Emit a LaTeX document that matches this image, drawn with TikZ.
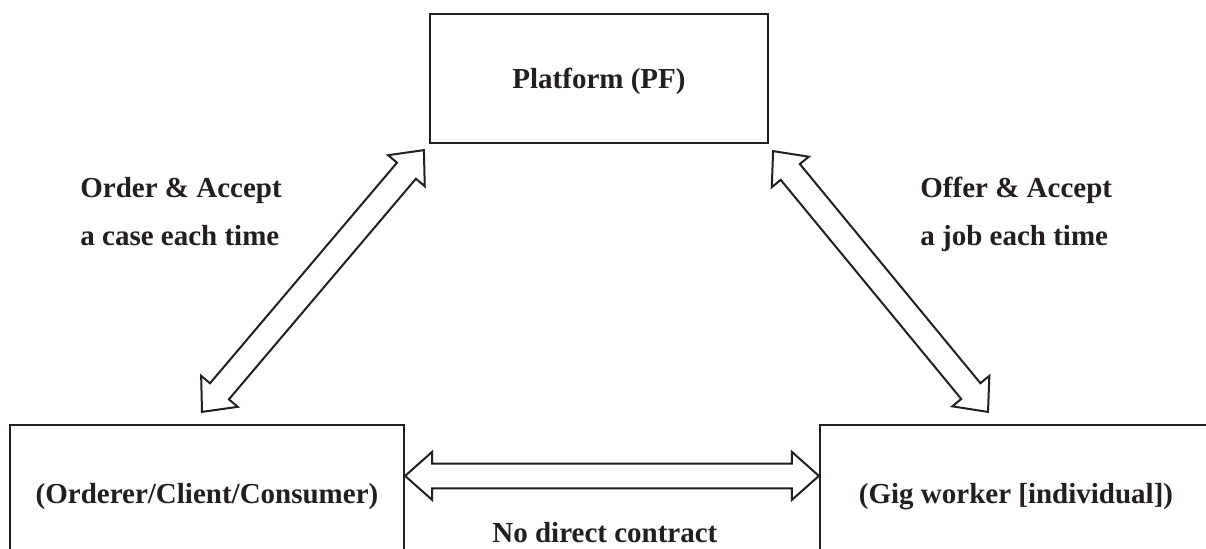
\documentclass[tikz,border=0pt]{standalone}
\usepackage{fontspec}
\setmainfont{Liberation Serif}
\usetikzlibrary{calc}
\definecolor{ink}{HTML}{231F20}

% head length, head half-width, shaft half-width of the hollow arrows
\newcommand\hl{13.5pt}
\newcommand\hw{12pt}
\newcommand\sw{6.2pt}
% hollow two-headed arrow from tip #1 to tip #2
\newcommand\widearrow[2]{%
  \draw[fatarrow] let \p1=($(#2)-(#1)$), \n1={atan2(\y1,\x1)}, \n2={veclen(\x1,\y1)} in
    [shift={(#1)}, rotate=\n1]
    (0pt,0pt) -- (\hl,\hw) -- (\hl,\sw) -- (\n2-\hl,\sw) -- (\n2-\hl,\hw)
    -- (\n2,0pt) -- (\n2-\hl,-\hw) -- (\n2-\hl,-\sw) -- (\hl,-\sw) -- (\hl,-\hw) -- cycle;}

\tikzset{
  txt/.style={font=\bfseries\fontsize{14.5}{17}\selectfont, text=ink, inner sep=0pt},
  box/.style={txt, draw=ink, line width=1.1pt, rectangle, text height=10.2pt, text depth=3.2pt},
  fatarrow/.style={draw=ink, line width=1pt, fill=white, line join=miter},
}

\begin{document}
\begin{tikzpicture}[x=0.5pt, y=-0.5pt]
  \useasboundingbox (0,0) rectangle (1206,548);
  \clip (0,0) rectangle (1206,548);
  \fill[white] (0,0) rectangle (1206,548);

  % the three parties
  \node[box, minimum width=169pt, minimum height=64.5pt, text height=11.5pt, text depth=2pt]
    (pf) at (599,78.5) {Platform (PF)};
  \node[box, minimum width=197pt, minimum height=71pt]
    (client) at (207,496) {(Orderer/Client/Consumer)};
  \node[box, minimum width=196pt, minimum height=71pt]
    (gig) at (1016,496) {(Gig worker [individual])};

  % arrow tips next to the boxes
  \coordinate (cl-top) at ($(client.north)+(-5,-12)$);
  \coordinate (pf-sw)  at ($(pf.south west)+(-5,6)$);
  \coordinate (pf-se)  at ($(pf.south east)+(4,7)$);
  \coordinate (gig-top) at ($(gig.north)+(-28,-12)$);
  \coordinate (cl-e)   at ($(client.north east)+(0,52)$);
  \coordinate (gig-w)  at ($(gig.north west)+(0,52)$);

  \widearrow{cl-top}{pf-sw}
  \widearrow{gig-top}{pf-se}
  \widearrow{cl-e}{gig-w}

  % relation labels
  \node[txt, anchor=base west] (ord1) at (80,197) {Order \& Accept};
  \node[txt, anchor=base west] (ord2) at (80,245) {a case each time};
  \node[txt, anchor=base west] (off1) at (920,197) {Offer \& Accept};
  \node[txt, anchor=base west] (off2) at (920,245) {a job each time};
  \node[txt, anchor=base west] (nodc) at (492,542) {No direct contract};
\end{tikzpicture}
\end{document}
